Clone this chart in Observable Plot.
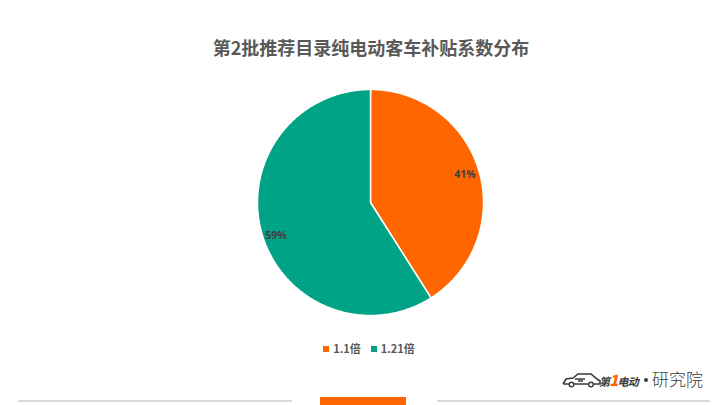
<!DOCTYPE html>
<html><head><meta charset="utf-8">
<script src="https://cdn.jsdelivr.net/npm/d3@7"></script>
<script src="https://cdn.jsdelivr.net/npm/@observablehq/plot@0.6"></script>
<style>
body{margin:0;background:#fff;font-family:"Noto Sans CJK SC","Noto Sans",sans-serif;}
#wrap{position:relative;width:720px;height:405px;overflow:hidden;background:#fff;}
#title{position:absolute;left:0;width:742px;top:33px;text-align:center;font-size:18px;font-weight:bold;color:#595959;line-height:28px;}
#chart{position:absolute;left:0;top:75px;}
#legend{position:absolute;left:0;width:748px;top:340px;text-align:center;font-size:11px;font-weight:bold;color:#595959;line-height:16px;}
#legend span.sw{display:inline-block;width:6px;height:6px;margin-right:4px;vertical-align:1px;}
#legend span.it{margin-right:10px;}
.gl{position:absolute;height:2px;background:#d9d9d9;top:400px;}
#bar{position:absolute;left:320px;width:86px;top:397px;height:8px;background:#ff6600;}
#car{position:absolute;left:561px;top:370px;}
#logoA{position:absolute;left:599px;top:370px;font-size:11px;font-weight:bold;font-style:italic;color:#3a3a3a;letter-spacing:-0.8px;white-space:nowrap;line-height:20px;}
#logoA b{color:#ff6600;font-size:15px;}
#dot{position:absolute;left:644px;top:378px;width:4px;height:4px;border-radius:2px;background:#3a3a3a;}
#logoC{position:absolute;left:652px;top:366px;font-size:17px;font-weight:300;color:#3a3a3a;white-space:nowrap;line-height:26px;}
</style></head>
<body><div id="wrap">
<div id="title">第2批推荐目录纯电动客车补贴系数分布</div>
<div id="chart"></div>
<div id="legend"></div>
<div class="gl" style="left:18px;width:274px"></div>
<div class="gl" style="left:437px;width:273px"></div>
<div id="bar"></div>
<svg id="car" width="40" height="20" viewBox="0 0 40 20"><path d="M2 14 L5 9 L12 8 L17 4 L30 4 L36 9 L39 11 L39 14 L33 14 M27 14 L13 14 M8 14 L2 14" fill="none" stroke="#3a3a3a" stroke-width="1.6"/><circle cx="10.5" cy="14.5" r="2.3" fill="none" stroke="#3a3a3a" stroke-width="1.4"/><circle cx="30" cy="14.5" r="2.3" fill="none" stroke="#3a3a3a" stroke-width="1.4"/><path d="M14 9 L24 9 M17 11 L22 11" stroke="#3a3a3a" stroke-width="1.4"/></svg>
<div id="logoA">第<b>1</b>电动</div>
<div id="dot"></div>
<div id="logoC">研究院</div>
</div>
<script>
const categories = ["1.1倍", "1.21倍"];
const shares = [41, 59];
const labels = ["41%", "59%"];
const colors = ["#ff6600", "#00a385"];

const total = d3.sum(shares);
const slices = [];
const labelRows = [];
let start = 0;
categories.forEach((c, i) => {
  const a0 = start / total * 2 * Math.PI;
  const a1 = (start + shares[i]) / total * 2 * Math.PI;
  const n = Math.max(2, Math.ceil((a1 - a0) / 0.01));
  slices.push({cat: c, x: 0, y: 0});
  for (let k = 0; k <= n; k++) {
    const a = a0 + (a1 - a0) * k / n;
    slices.push({cat: c, x: Math.sin(a), y: Math.cos(a)});
  }
  slices.push({cat: c, x: 0, y: 0});
  const am = (a0 + a1) / 2;
  const rr = 0.87;
  labelRows.push({cat: c, text: labels[i], x: rr * Math.sin(am), y: rr * Math.cos(am)});
  start += shares[i];
});

const cx = 370, r = 113, h = 250, cyLocal = 127;
const chart = Plot.plot({
  width: 720, height: h,
  marginLeft: cx - r, marginRight: 720 - (cx + r),
  marginTop: cyLocal - r, marginBottom: h - (cyLocal + r),
  x: {domain: [-1, 1], axis: null},
  y: {domain: [-1, 1], axis: null},
  style: {background: "transparent"},
  marks: [
    ...categories.map((c, i) => Plot.line(slices.filter(d => d.cat === c), {
      x: "x", y: "y", fill: colors[i], stroke: "#fff", strokeWidth: 1.5, strokeLinejoin: "round"
    })),
    Plot.text(labelRows.slice(0, 1), {x: "x", y: "y", text: "text", fill: "#404040", fontSize: 10.5, fontWeight: "bold",
      fontFamily: "Noto Sans, sans-serif"}),
    Plot.text(labelRows.slice(1), {x: "x", y: "y", text: "text", fill: "#404040", fontSize: 10.5, fontWeight: "bold",
      fontFamily: "Noto Sans, sans-serif", dy: 6})
  ]
});
document.getElementById("chart").appendChild(chart);

const lg = document.getElementById("legend");
categories.forEach((c, i) => {
  const sw = document.createElement("span"); sw.className = "sw"; sw.style.background = colors[i];
  const t = document.createElement("span"); t.className = "it"; t.textContent = c;
  lg.appendChild(sw); lg.appendChild(t);
});
</script>
</body></html>
